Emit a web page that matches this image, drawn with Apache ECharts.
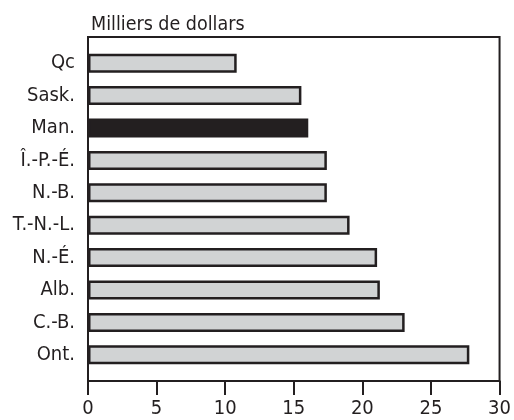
<!DOCTYPE html>
<html>
<head>
<meta charset="utf-8">
<script src="https://cdn.jsdelivr.net/npm/echarts@6/dist/echarts.min.js"></script>
<style>
  html, body { margin: 0; padding: 0; background: #fff; }
  #chart { width: 514px; height: 420px; }
</style>
</head>
<body>
<div id="chart"></div>
<script>
// provinces, top to bottom
const provinces = ['Qc', 'Sask.', 'Man.', 'Î.-P.-É.', 'N.-B.', 'T.-N.-L.', 'N.-É.', 'Alb.', 'C.-B.', 'Ont.'];
// thousands of dollars
const values = [10.8, 15.5, 16.0, 17.35, 17.35, 19.0, 21.0, 21.2, 23.0, 27.7];
const highlighted = 'Man.';
const xMin = 0;
const xMax = 30;
const xStep = 5;

const ink = '#231f20';
const fontFamily = '"DejaVu Sans Condensed", sans-serif';

const chart = echarts.init(document.getElementById('chart'), null, { renderer: 'canvas' });

chart.setOption({
  animation: false,
  title: {
    text: 'Milliers de dollars',
    left: 86,
    top: 10,
    textStyle: { fontFamily, fontSize: 19.5, fontWeight: 'normal', color: ink },
  },
  grid: [
    // outer frame + value axis
    { left: 88, right: 13, top: 37, bottom: 39, show: true, borderColor: ink, borderWidth: 2, backgroundColor: 'transparent' },
    // bars, inset from the frame
    { left: 88, right: 13, top: 47, bottom: 49 },
  ],
  xAxis: [
    {
      gridIndex: 0,
      type: 'value',
      min: xMin,
      max: xMax,
      interval: xStep,
      axisLine: { show: true, lineStyle: { color: ink, width: 2 } },
      axisTick: { show: true, inside: false, length: 14, lineStyle: { color: ink, width: 2 } },
      axisLabel: { fontFamily, fontSize: 20, color: ink, margin: 18 },
      splitLine: { show: false },
    },
    {
      gridIndex: 1,
      type: 'value',
      min: xMin,
      max: xMax,
      show: false,
    },
  ],
  yAxis: [
    { gridIndex: 0, type: 'value', show: false },
    {
      gridIndex: 1,
      type: 'category',
      inverse: true,
      data: provinces,
      axisLine: { show: false },
      axisTick: { show: false },
      axisLabel: { fontFamily, fontSize: 20, color: ink, margin: 13 },
    },
  ],
  series: [
    {
      type: 'bar',
      xAxisIndex: 1,
      yAxisIndex: 1,
      barWidth: 19,
      data: values.map((v, i) => ({
        value: v,
        itemStyle: provinces[i] === highlighted ? { color: ink } : undefined,
      })),
      itemStyle: { color: '#d1d3d4', borderColor: ink, borderWidth: 2.5 },
    },
  ],
});
</script>
</body>
</html>
